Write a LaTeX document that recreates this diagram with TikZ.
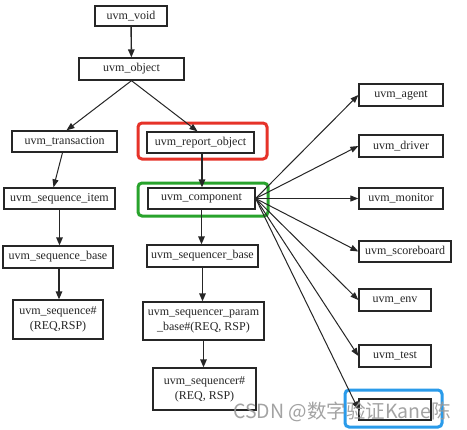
\documentclass[tikz,border=0pt]{standalone}
\usepackage{fontspec}
\setmainfont{Liberation Serif}
\newfontfamily\clsfont{Liberation Serif}
\newfontfamily\wmfont{Noto Sans CJK SC}
\usetikzlibrary{arrows.meta}
\definecolor{ink}{HTML}{262626}
\definecolor{hired}{HTML}{E63228}
\definecolor{higreen}{HTML}{28A32C}
\definecolor{hiblue}{HTML}{2A9BEA}
\tikzset{
  cls/.style={draw=ink, line width=1.3bp, inner sep=0pt, text=ink, align=center,
    font=\clsfont\fontsize{12bp}{15bp}\selectfont},
  edge/.style={draw=ink, line width=1bp, -{Triangle[length=8bp,width=6bp]}},
  vedge/.style={draw=ink, line width=1.4bp, -{Triangle[length=8bp,width=6.5bp]}},
  frame/.style={draw=#1, line width=3bp, rounded corners=4bp, inner sep=0pt}
}
\begin{document}
\begin{tikzpicture}[x=1bp,y=-1bp]
\useasboundingbox[fill=white] (0,0) rectangle (467,429);
% highlight frames
\node[frame=hired, minimum width=129bp, minimum height=36bp] (fred) at (202.5,141) {};
\node[frame=higreen, minimum width=130bp, minimum height=33bp] (fgreen) at (203,199.5) {};
\node[frame=hiblue, minimum width=97bp, minimum height=37bp] (fblue) at (393.5,408.5) {};
% class nodes
\node[cls, minimum width=72bp, minimum height=20bp] (void) at (131,16) {uvm\_void};
\node[cls, minimum width=105bp, minimum height=22bp] (object) at (131.5,69) {uvm\_object};
\node[cls, minimum width=105bp, minimum height=21bp] (trans) at (64.5,141.5) {uvm\_transaction};
\node[cls, minimum width=107bp, minimum height=21bp] (report) at (200.5,142.5) {uvm\_report\_object};
\node[cls, minimum width=107bp, minimum height=21bp] (comp) at (201.5,198.5) {uvm\_component};
\node[cls, minimum width=111bp, minimum height=21bp] (item) at (59.5,198.5) {uvm\_sequence\_item};
\node[cls, minimum width=110bp, minimum height=22bp] (seqbase) at (58,257) {uvm\_sequence\_base};
\node[cls, minimum width=90bp, minimum height=39bp] (seq) at (58,319.5) {uvm\_sequence\#\\(REQ,RSP)};
\node[cls, minimum width=111bp, minimum height=22bp] (sqrbase) at (202.5,256) {uvm\_sequencer\_base};
\node[cls, minimum width=121bp, minimum height=38bp] (param) at (203.5,321) {uvm\_sequencer\_param\\\_base\#(REQ, RSP)};
\node[cls, minimum width=103bp, minimum height=42bp] (sqr) at (204.5,389) {uvm\_sequencer\#\\(REQ, RSP)};
\node[cls, minimum width=84bp, minimum height=22bp] (agent) at (401,95) {uvm\_agent};
\node[cls, minimum width=84bp, minimum height=22bp] (driver) at (401,146) {uvm\_driver};
\node[cls, minimum width=84bp, minimum height=21bp] (monitor) at (401,198.5) {uvm\_monitor};
\node[cls, minimum width=92bp, minimum height=21bp] (score) at (405,251.5) {uvm\_scoreboard};
\node[cls, minimum width=72bp, minimum height=22bp] (env) at (395,300) {uvm\_env};
\node[cls, minimum width=72bp, minimum height=22bp] (test) at (395,356) {uvm\_test};
\node[cls, minimum width=72bp, minimum height=21bp] (last) at (395,409.5) {};
% connectors
\draw[vedge] (void) -- (object);
\draw[edge] (object.south) -- ([xshift=2bp]trans.north);
\draw[edge] (object.south) -- ([xshift=-3bp]report.north);
\draw[edge] ([xshift=-2bp]trans.south) -- ([xshift=-6bp]item.north);
\draw[vedge] (item.south) -- (item.south |- seqbase.north);
\draw[vedge] ([xshift=1bp]seqbase.south) -- ([xshift=1bp]seqbase.south |- seq.north);
\draw[vedge] ([xshift=1.5bp]report.south) -- ([xshift=1.5bp]report.south |- comp.north);
\draw[vedge] (comp.south) -- (comp.south |- sqrbase.north);
\draw[vedge] (sqrbase.south) -- (sqrbase.south |- param.north);
\draw[vedge] (param.south) -- (param.south |- sqr.north);
\foreach \t in {agent,driver,monitor,score,env,test,last}
  \draw[edge] (comp.east) -- (\t.west);
% watermark
\node[text=gray!80, opacity=0.9, inner sep=0pt, anchor=west,
  font=\wmfont\fontsize{19.5bp}{19.5bp}\selectfont] (wm) at (233,412) {CSDN @数字验证Kane陈};
\end{tikzpicture}
\end{document}
